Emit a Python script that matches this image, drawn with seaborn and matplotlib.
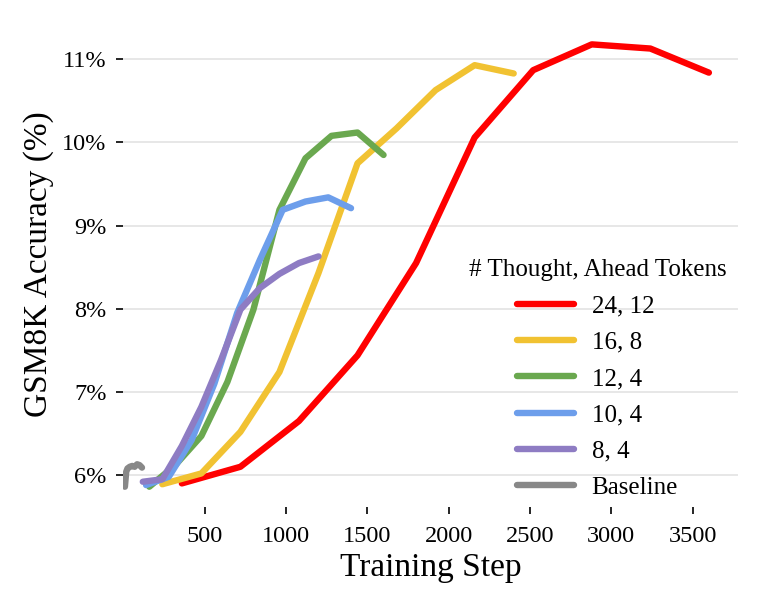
"""GSM8K accuracy vs training step for several thought/ahead token settings."""

import matplotlib
matplotlib.use("Agg")
import matplotlib.pyplot as plt
import pandas as pd
import seaborn as sns
from matplotlib.ticker import FuncFormatter

# thought, ahead token settings (legend order)
SERIES = ["24, 12", "16, 8", "12, 4", "10, 4", "8, 4", "Baseline"]
COLORS = ["#FF0000", "#F1C232", "#6AA84F", "#6D9EEB", "#8E7CC3", "#888888"]

steps_24_12 = [360, 720, 1080, 1440, 1800, 2160, 2520, 2880, 3240, 3600]
acc_24_12 = [5.90, 6.10, 6.65, 7.44, 8.55, 10.06, 10.87, 11.18, 11.13, 10.84]

steps_16_8 = [240, 480, 720, 960, 1200, 1440, 1680, 1920, 2160, 2400]
acc_16_8 = [5.89, 6.02, 6.52, 7.24, 8.43, 9.75, 10.17, 10.63, 10.93, 10.83]

steps_12_4 = [160, 320, 480, 640, 800, 960, 1120, 1280, 1440, 1600]
acc_12_4 = [5.86, 6.12, 6.47, 7.12, 7.99, 9.19, 9.81, 10.08, 10.12, 9.85]

steps_10_4 = [140, 280, 420, 560, 700, 840, 980, 1120, 1260, 1400]
acc_10_4 = [5.88, 5.98, 6.42, 7.10, 7.95, 8.59, 9.19, 9.29, 9.34, 9.21]

steps_8_4 = [120, 240, 360, 480, 600, 720, 840, 960, 1080, 1200]
acc_8_4 = [5.92, 5.95, 6.35, 6.82, 7.38, 7.99, 8.25, 8.42, 8.55, 8.63]

steps_base = [10, 18, 26, 40, 55, 70, 85, 100, 115]
acc_base = [5.86, 6.04, 6.08, 6.10, 6.11, 6.10, 6.13, 6.12, 6.09]

Y_TICKS = [6, 7, 8, 9, 10, 11]
X_TICKS = [500, 1000, 1500, 2000, 2500, 3000, 3500]

frames = []
for name, xs, ys in [
    ("24, 12", steps_24_12, acc_24_12),
    ("16, 8", steps_16_8, acc_16_8),
    ("12, 4", steps_12_4, acc_12_4),
    ("10, 4", steps_10_4, acc_10_4),
    ("8, 4", steps_8_4, acc_8_4),
    ("Baseline", steps_base, acc_base),
]:
    frames.append(pd.DataFrame({"step": xs, "acc": ys, "setting": name}))
df = pd.concat(frames, ignore_index=True)

sns.set_theme(style="white")
plt.rcParams["font.family"] = ["Liberation Serif", "DejaVu Serif"]
plt.rcParams["text.color"] = "black"
plt.rcParams["axes.labelcolor"] = "black"
plt.rcParams["xtick.color"] = "black"
plt.rcParams["ytick.color"] = "black"

fig = plt.figure(figsize=(7.61, 6.09), dpi=100)
ax = fig.add_axes([0.162, 0.168, 0.808, 0.796])

sns.lineplot(data=df, x="step", y="acc", hue="setting", hue_order=SERIES,
             palette=dict(zip(SERIES, COLORS)), linewidth=4.6, sort=False,
             estimator=None, ax=ax)

ax.set_xlim(0, 3780)
ax.set_ylim(5.62, 11.45)
ax.set_xticks(X_TICKS)
ax.set_yticks(Y_TICKS)
ax.yaxis.set_major_formatter(FuncFormatter(lambda v, _: f"{v:.0f}%"))
ax.tick_params(axis="both", labelsize=17.5, length=5, width=1.2,
               direction="out", bottom=True, left=True)
ax.tick_params(axis="y", pad=7)
ax.tick_params(axis="x", pad=9)
ax.yaxis.grid(True, color="#e0e0e0", linewidth=1.1)
ax.xaxis.grid(False)
for s in ax.spines.values():
    s.set_visible(False)

ax.set_xlabel("Training Step", fontsize=24)
ax.set_ylabel("GSM8K Accuracy (%)", fontsize=24, labelpad=6)

handles, labels = ax.get_legend_handles_labels()
ax.legend(handles, labels, title="# Thought, Ahead Tokens", frameon=False,
          fontsize=18, title_fontsize=18, handlelength=2.3, handletextpad=0.7,
          labelspacing=0.55, loc="upper center",
          bbox_to_anchor=(0.785, 0.611), bbox_transform=fig.transFigure)
for line in ax.get_legend().get_lines():
    line.set_linewidth(4.6)

fig.savefig("out.png", dpi=100)
